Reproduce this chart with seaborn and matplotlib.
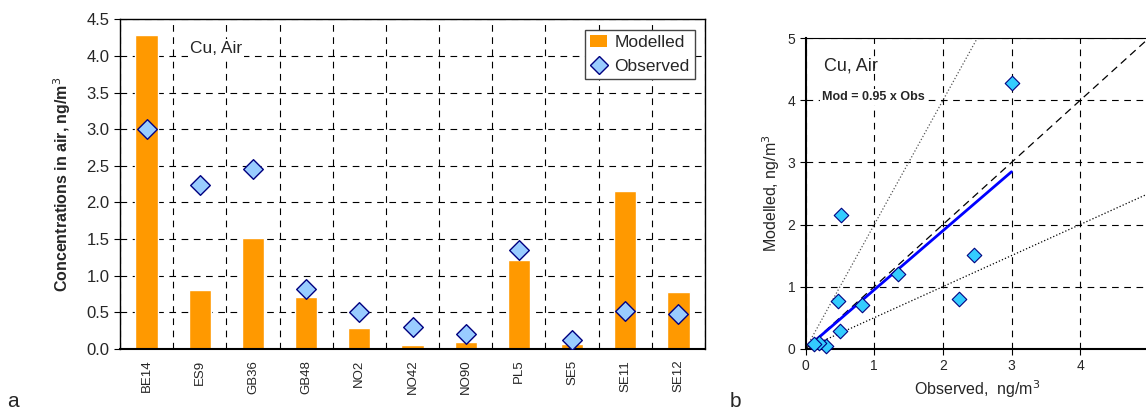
import numpy as np
import pandas as pd
import matplotlib
matplotlib.use("Agg")
import matplotlib.pyplot as plt
from matplotlib.lines import Line2D
from matplotlib.patches import Patch
import seaborn as sns

# dados
stations = ["BE14", "ES9", "GB36", "GB48", "NO2", "NO42", "NO90", "PL5", "SE5", "SE11", "SE12"]
modelled = [4.28, 0.80, 1.51, 0.70, 0.28, 0.05, 0.09, 1.21, 0.07, 2.15, 0.77]
observed = [3.00, 2.24, 2.46, 0.82, 0.50, 0.29, 0.20, 1.35, 0.12, 0.51, 0.47]
slope = 0.95

sns.set_style("white")
plt.rcParams['font.family'] = ['Liberation Sans', 'DejaVu Sans']

df = pd.DataFrame({"station": stations, "Modelled": modelled, "Observed": observed})

fig = plt.figure(figsize=(11.46, 4.15), dpi=100)
white_box = dict(facecolor="white", edgecolor="none", pad=1.5)

# painel a
ax1 = fig.add_axes([120/1146, 1 - 348.7/415, (705-120)/1146, (348.7-19.3)/415])
sns.barplot(data=df, x="station", y="Modelled", color="#FF9900", width=0.42,
            saturation=1, ax=ax1, zorder=2)
sns.stripplot(data=df, x="station", y="Observed", jitter=False, marker="D", size=10,
              color="#99CCFF", edgecolor="#000080", linewidth=1, ax=ax1, zorder=3)
ax1.set_xlim(-0.5, len(stations) - 0.5)
ax1.set_ylim(0, 4.5)
ax1.set_yticks(np.arange(0, 4.51, 0.5))
ax1.set_yticklabels([f"{v:.1f}" for v in np.arange(0, 4.51, 0.5)], fontsize=12)
ax1.set_xticks(range(len(stations)))
ax1.set_xticklabels(stations, rotation=90, fontsize=9.5)
ax1.set_xticks(np.arange(-0.5, len(stations), 1), minor=True)
ax1.tick_params(axis="x", which="major", length=0, pad=8)
ax1.tick_params(axis="x", which="minor", length=4, direction="out", color="black")
ax1.tick_params(axis="y", length=4, direction="out", color="black", left=True)
ax1.grid(False)
ax1.grid(True, axis="x", which="minor", linestyle=(0, (6, 5)), color="black", lw=0.8, zorder=0)
ax1.grid(True, axis="y", which="major", linestyle=(0, (6, 5)), color="black", lw=0.8, zorder=0)
ax1.set_axisbelow(True)
for s in ax1.spines.values():
    s.set_color("black")
    s.set_linewidth(1)
ax1.spines["bottom"].set_linewidth(1.5)
ax1.set_xlabel("")
ax1.set_ylabel("Concentrations in air, ng/m$^3$", fontsize=11.5, fontweight="bold", labelpad=10)
ax1.text(0.82, 4.1, "Cu, Air", fontsize=12.5, va="center", bbox=white_box)
handles = [Patch(facecolor="#FF9900", edgecolor="none"),
           Line2D([], [], marker="D", linestyle="none", markersize=9,
                  markerfacecolor="#99CCFF", markeredgecolor="#000080")]
leg = ax1.legend(handles, ["Modelled", "Observed"], loc="upper right", fontsize=12.5,
                 fancybox=False, framealpha=1, edgecolor="#444444",
                 borderaxespad=0.6, handlelength=1.0, handletextpad=0.4, borderpad=0.3)
leg.get_frame().set_linewidth(1)

# painel b
ax2 = fig.add_axes([805.7/1146, 1 - 348.7/415, (1148.7-805.7)/1146, (348.7-38.3)/415])
xs = np.array([0, 5])
ax2.plot(xs, xs, linestyle=(0, (6, 4)), color="black", lw=0.9, zorder=2)
ax2.plot(xs, 2 * xs, linestyle=":", color="#555555", lw=0.9, zorder=2)
ax2.plot(xs, 0.5 * xs, linestyle=":", color="black", lw=0.9, zorder=2)
xr = np.array([0.15, max(observed)])
ax2.plot(xr, slope * xr, color="#0000FF", lw=2, zorder=3)
sns.scatterplot(x=observed, y=modelled, marker="D", s=55, color="#33CCFF",
                edgecolor="#000080", linewidth=0.8, ax=ax2, zorder=4, clip_on=False)
ax2.set_xlim(0, 5)
ax2.set_ylim(0, 5)
ax2.set_xticks(range(0, 6))
ax2.set_xticklabels(["0", "1", "2", "3", "4", ""])
ax2.set_yticks(range(0, 6))
ax2.tick_params(labelsize=10, length=4, direction="out", color="black", left=True, bottom=True)
ax2.grid(True, linestyle=(0, (6, 5)), color="black", lw=0.8, zorder=0)
ax2.set_axisbelow(True)
for s in ax2.spines.values():
    s.set_color("black")
ax2.spines["bottom"].set_linewidth(1.5)
ax2.spines["left"].set_linewidth(1.5)
ax2.set_xlabel("Observed,  ng/m$^3$", fontsize=11.5)
ax2.set_ylabel("Modelled, ng/m$^3$", fontsize=11.5)
ax2.text(0.27, 4.55, "Cu, Air", fontsize=13, va="center", zorder=5)
ax2.text(0.24, 4.05, "Mod = 0.95 x Obs", fontsize=9, fontweight="bold", va="center",
         bbox=white_box, zorder=5)

fig.text(0.006, 0.02, "a", fontsize=15)
fig.text(0.637, 0.02, "b", fontsize=15)

fig.savefig("out.png", dpi=100)
